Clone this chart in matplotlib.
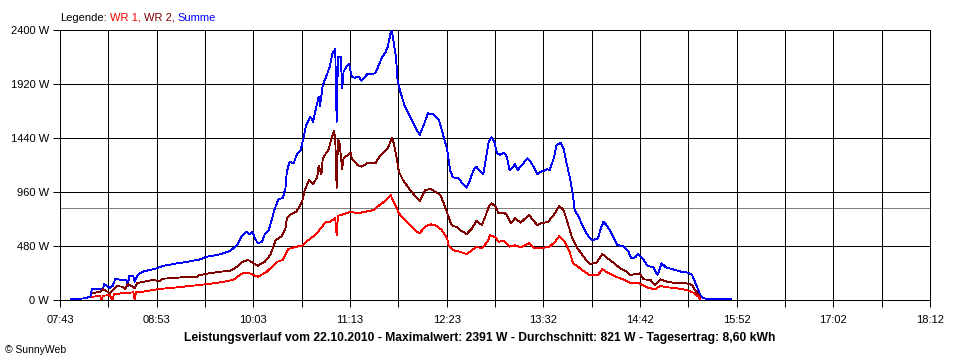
import matplotlib
matplotlib.use("Agg")
import matplotlib.pyplot as plt
import numpy as np

plt.rcParams['font.family'] = ['Liberation Sans', 'DejaVu Sans']

# Summe (blue)
summe_t = ["07:51", "08:01", "08:05", "08:06", "08:14", "08:15", "08:19", "08:21", "08:23", "08:28",
           "08:31", "08:32", "08:33", "08:36", "08:37", "08:39", "08:43", "08:48", "08:53", "08:57",
           "09:05", "09:15", "09:24", "09:29", "09:39", "09:46", "09:51", "09:55", "09:58", "10:00",
           "10:02", "10:04", "10:06", "10:09", "10:11", "10:14", "10:16", "10:18", "10:21", "10:24",
           "10:26", "10:27", "10:29", "10:32", "10:34", "10:37", "10:39", "10:41", "10:44", "10:46",
           "10:47", "10:50", "10:51", "10:53", "10:56", "10:58", "11:00", "11:02", "11:03", "11:04",
           "11:06", "11:07", "11:08", "11:10", "11:12", "11:14", "11:16", "11:19", "11:21", "11:25",
           "11:31", "11:33", "11:36", "11:38", "11:40", "11:42", "11:43", "11:44", "11:46", "11:47",
           "11:49", "11:52", "11:56", "12:01", "12:03", "12:06", "12:09", "12:13", "12:17", "12:20",
           "12:23", "12:25", "12:27", "12:31", "12:35", "12:37", "12:39", "12:42", "12:44", "12:47",
           "12:49", "12:51", "12:53", "12:55", "12:57", "12:59", "13:01", "13:04", "13:06", "13:08",
           "13:10", "13:12", "13:14", "13:17", "13:21", "13:24", "13:28", "13:31", "13:35", "13:37",
           "13:40", "13:42", "13:45", "13:47", "13:49", "13:52", "13:54", "13:55", "13:58", "14:00",
           "14:03", "14:06", "14:08", "14:12", "14:14", "14:16", "14:19", "14:23", "14:26", "14:31",
           "14:34", "14:36", "14:39", "14:41", "14:45", "14:48", "14:52", "14:55", "14:58", "15:01",
           "15:06", "15:12", "15:17", "15:20", "15:22", "15:24", "15:26", "15:28", "15:32", "15:48"]
summe_w = [6, 15, 29, 95, 95, 142, 107, 124, 187, 178,
           178, 124, 213, 213, 163, 222, 252, 267, 282, 302,
           320, 340, 360, 385, 406, 436, 489, 578, 607, 584,
           607, 548, 504, 518, 584, 622, 711, 800, 898, 904,
           993, 1140, 1229, 1215, 1289, 1333, 1437, 1556, 1629, 1585,
           1644, 1807, 1727, 1910, 2005, 2074, 2193, 2231, 1585, 2160,
           2163, 1882, 2029, 2074, 2095, 1985, 1976, 1985, 1949, 2006,
           2015, 2074, 2163, 2193, 2252, 2371, 2391, 2311, 2148, 1956,
           1852, 1733, 1629, 1511, 1467, 1556, 1660, 1651, 1600, 1467,
           1333, 1156, 1091, 1082, 1022, 998, 1052, 1156, 1185, 1140,
           1120, 1260, 1407, 1446, 1407, 1304, 1289, 1309, 1274, 1156,
           1171, 1209, 1156, 1200, 1260, 1215, 1120, 1140, 1162, 1156,
           1260, 1378, 1398, 1348, 1229, 1067, 918, 800, 740, 682,
           607, 548, 533, 548, 637, 696, 652, 563, 489, 474,
           429, 371, 380, 409, 356, 302, 291, 222, 326, 291,
           273, 252, 243, 222, 163, 104, 44, 15, 9, 6]

# WR 2 (dark red)
wr2_t = ["08:07", "08:12", "08:14", "08:19", "08:24", "08:28", "08:30", "08:32", "08:37", "08:39",
         "08:46", "08:50", "08:55", "08:57", "09:08", "09:15", "09:22", "09:24", "09:31", "09:39",
         "09:46", "09:51", "09:55", "09:59", "10:03", "10:06", "10:11", "10:15", "10:19", "10:23",
         "10:26", "10:27", "10:30", "10:34", "10:38", "10:40", "10:43", "10:46", "10:49", "10:50",
         "10:52", "10:53", "10:56", "10:57", "10:59", "11:01", "11:02", "11:03", "11:04", "11:05",
         "11:07", "11:08", "11:11", "11:13", "11:14", "11:18", "11:21", "11:25", "11:31", "11:34",
         "11:38", "11:40", "11:43", "11:44", "11:46", "11:48", "11:51", "11:56", "12:01", "12:03",
         "12:07", "12:11", "12:15", "12:18", "12:20", "12:23", "12:26", "12:30", "12:33", "12:37",
         "12:41", "12:44", "12:48", "12:50", "12:53", "12:55", "12:58", "13:00", "13:04", "13:06",
         "13:09", "13:12", "13:16", "13:22", "13:25", "13:28", "13:31", "13:36", "13:40", "13:44",
         "13:47", "13:49", "13:53", "13:57", "13:59", "14:03", "14:06", "14:11", "14:15", "14:18",
         "14:23", "14:28", "14:33", "14:35", "14:39", "14:42", "14:45", "14:50", "14:53", "14:57",
         "15:02", "15:09", "15:16", "15:20", "15:22", "15:25", "15:26"]
wr2_w = [62, 74, 95, 62, 124, 118, 98, 142, 107, 151,
         169, 178, 169, 189, 198, 207, 207, 222, 237, 252,
         258, 296, 340, 356, 326, 305, 340, 400, 533, 563,
         637, 726, 762, 785, 874, 978, 1067, 1028, 1096, 1194,
         1117, 1260, 1318, 1333, 1422, 1502, 1440, 998, 1422, 1407,
         1164, 1260, 1289, 1313, 1260, 1200, 1185, 1215, 1215, 1274,
         1324, 1348, 1443, 1407, 1289, 1140, 1067, 978, 909, 880,
         978, 987, 957, 933, 874, 771, 667, 646, 616, 587,
         637, 705, 667, 726, 829, 860, 829, 771, 776, 756,
         682, 726, 687, 756, 711, 667, 682, 696, 756, 836,
         800, 726, 563, 460, 429, 362, 320, 332, 409, 380,
         332, 282, 252, 222, 231, 237, 184, 178, 133, 184,
         163, 148, 148, 133, 89, 44, 15]

# WR 1 (red)
wr1_t = ["08:06", "08:12", "08:13", "08:14", "08:19", "08:21", "08:22", "08:28", "08:36", "08:37",
         "08:38", "08:43", "08:55", "09:08", "09:19", "09:30", "09:39", "09:48", "09:55", "10:00",
         "10:06", "10:12", "10:20", "10:24", "10:28", "10:34", "10:38", "10:41", "10:46", "10:50",
         "10:55", "10:58", "11:02", "11:03", "11:04", "11:08", "11:13", "11:18", "11:22", "11:30",
         "11:34", "11:39", "11:42", "11:46", "11:48", "11:51", "11:56", "12:01", "12:03", "12:07",
         "12:11", "12:15", "12:19", "12:23", "12:24", "12:27", "12:32", "12:37", "12:41", "12:44",
         "12:48", "12:52", "12:54", "12:58", "13:00", "13:04", "13:08", "13:12", "13:16", "13:22",
         "13:26", "13:30", "13:37", "13:41", "13:44", "13:47", "13:51", "13:54", "13:58", "14:01",
         "14:06", "14:12", "14:15", "14:19", "14:26", "14:30", "14:35", "14:42", "14:47", "14:53",
         "14:57", "15:02", "15:09", "15:16", "15:21", "15:25", "15:26"]
wr1_w = [29, 36, 0, 38, 44, 0, 50, 60, 68, 0,
         70, 74, 98, 113, 127, 142, 157, 178, 237, 237,
         207, 246, 340, 356, 453, 474, 483, 518, 563, 613,
         691, 696, 726, 578, 749, 762, 785, 771, 780, 800,
         844, 889, 933, 829, 771, 726, 667, 607, 593, 652,
         673, 660, 622, 548, 480, 444, 429, 409, 444, 474,
         460, 518, 575, 557, 518, 527, 474, 486, 468, 504,
         460, 460, 474, 518, 569, 533, 444, 326, 291, 260,
         222, 222, 273, 243, 202, 184, 154, 148, 113, 95,
         124, 113, 104, 89, 65, 24, 6]

xtick_labels = ["07:43", "08:53", "10:03", "11:13", "12:23", "13:32", "14:42", "15:52", "17:02", "18:12"]
ytick_values = [0, 480, 960, 1440, 1920, 2400]
durchschnitt = 821


def to_min(times):
    """HH:MM -> minutes since midnight"""
    return np.array([int(s[:2]) * 60 + int(s[3:]) for s in times])


fig = plt.figure(figsize=(9.6, 3.6), dpi=100)
ax = fig.add_axes([60 / 960, 1 - 300 / 360, 870 / 960, 270 / 360])

t0 = to_min([xtick_labels[0]])[0]
t1 = to_min([xtick_labels[-1]])[0]

LW = 0.72  # one pixel at 100 dpi
LW_DATA = 0.6

ax.axhline(durchschnitt, color="#808080", lw=LW, zorder=1, antialiased=False)
ax.plot(to_min(summe_t), summe_w, color="#0000ff", lw=LW_DATA, zorder=3, antialiased=False)
ax.plot(to_min(wr2_t), wr2_w, color="#800000", lw=LW_DATA, zorder=4, antialiased=False)
ax.plot(to_min(wr1_t), wr1_w, color="#ff0000", lw=LW_DATA, zorder=5, antialiased=False)

ax.set_xlim(t0, t1)
ax.set_ylim(0, 2400)
ax.set_xticks(np.linspace(t0, t1, len(xtick_labels)))
ax.set_xticklabels(xtick_labels)
ax.set_xticks(np.linspace(t0, t1, 2 * len(xtick_labels) - 1), minor=True)
ax.set_yticks(ytick_values)
ax.set_yticklabels([f"{v} W" for v in ytick_values])

ax.grid(True, which="major", color="black", lw=LW, zorder=0, antialiased=False)
ax.grid(True, which="minor", axis="x", color="black", lw=LW, zorder=0, antialiased=False)
for sp in ax.spines.values():
    sp.set_color("black")
    sp.set_linewidth(LW)
    sp.set_antialiased(False)
ax.tick_params(which="both", direction="out", length=5, width=LW, colors="black", labelsize=8, pad=3)
ax.tick_params(axis="x", pad=6)

fig.text(480 / 960, 1 - 341 / 360,
         "Leistungsverlauf vom 22.10.2010 - Maximalwert: 2391 W - Durchschnitt: 821 W - Tagesertrag: 8,60 kWh",
         ha="center", va="baseline", fontsize=8.7, fontweight="bold")
fig.text(5 / 960, 1 - 353 / 360, "© SunnyWeb", ha="left", va="baseline", fontsize=7.5)

# legend line at the top, coloured word by word
renderer = fig.canvas.get_renderer()
x = 60
for s, c in [("Legende:", "black"), ("WR 1,", "#ff0000"), ("WR 2,", "#800000"), ("Summe", "#0000ff")]:
    t = fig.text(x / 960, 1 - 21 / 360, s, color=c, fontsize=8, va="baseline")
    x = t.get_window_extent(renderer).x1 + 3

fig.savefig("out.png", dpi=100)
